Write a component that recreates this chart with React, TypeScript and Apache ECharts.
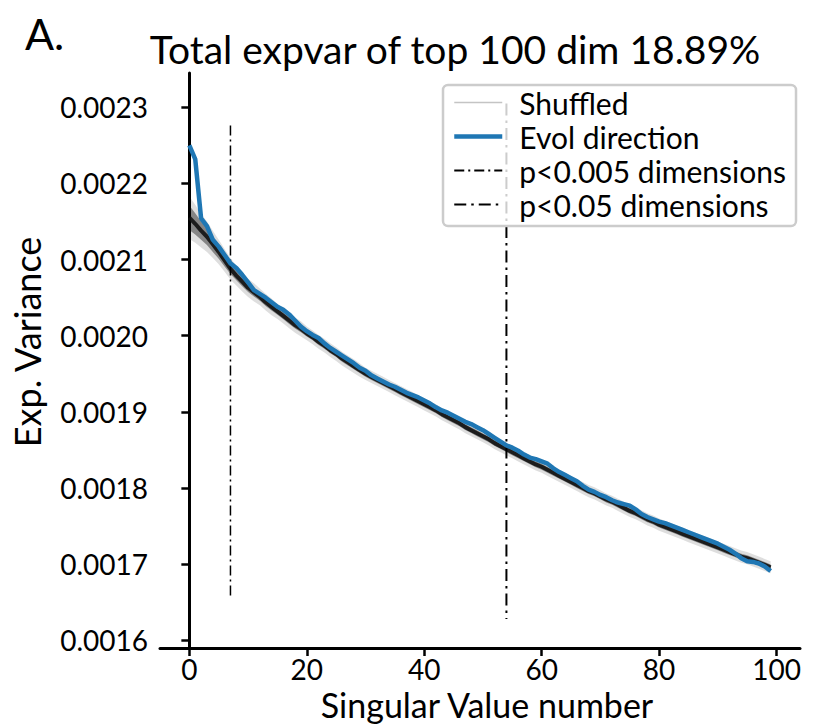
import React, { useEffect, useRef } from "react";
import * as echarts from "echarts";

const xTicks = [0, 20, 40, 60, 80, 100];
const yTicks = [0.0016, 0.0017, 0.0018, 0.0019, 0.002, 0.0021, 0.0022, 0.0023];

const evolDirection = [
  0.002250, 0.002232, 0.002154, 0.002144, 0.002126, 0.002117, 0.002106, 0.002095, 0.002089, 0.002080,
  0.002070, 0.002060, 0.002055, 0.002050, 0.002044, 0.002038, 0.002034, 0.002028, 0.002020, 0.002012,
  0.002006, 0.002001, 0.001997, 0.001990, 0.001984, 0.001979, 0.001974, 0.001969, 0.001964, 0.001958,
  0.001954, 0.001948, 0.001944, 0.001940, 0.001936, 0.001933, 0.001929, 0.001925, 0.001922, 0.001919,
  0.001915, 0.001911, 0.001906, 0.001902, 0.001899, 0.001895, 0.001891, 0.001887, 0.001884, 0.001880,
  0.001876, 0.001871, 0.001866, 0.001861, 0.001856, 0.001853, 0.001849, 0.001844, 0.001840, 0.001838,
  0.001835, 0.001832, 0.001826, 0.001821, 0.001817, 0.001813, 0.001809, 0.001803, 0.001798, 0.001795,
  0.001791, 0.001788, 0.001784, 0.001781, 0.001779, 0.001777, 0.001772, 0.001766, 0.001762, 0.001759,
  0.001756, 0.001754, 0.001751, 0.001748, 0.001745, 0.001742, 0.001739, 0.001736, 0.001733, 0.001730,
  0.001727, 0.001723, 0.001719, 0.001714, 0.001708, 0.001704, 0.001703, 0.001701, 0.001697, 0.001691,
];

const shuffledMean = [
  0.002155, 0.002147, 0.002138, 0.002130, 0.002120, 0.002110, 0.002099, 0.002088, 0.002079, 0.002071,
  0.002063, 0.002057, 0.002051, 0.002044, 0.002038, 0.002032, 0.002026, 0.002020, 0.002014, 0.002009,
  0.002003, 0.001998, 0.001992, 0.001987, 0.001981, 0.001976, 0.001970, 0.001965, 0.001960, 0.001955,
  0.001950, 0.001946, 0.001942, 0.001938, 0.001934, 0.001930, 0.001926, 0.001922, 0.001918, 0.001914,
  0.001910, 0.001906, 0.001902, 0.001897, 0.001893, 0.001889, 0.001885, 0.001880, 0.001876, 0.001872,
  0.001868, 0.001864, 0.001859, 0.001855, 0.001851, 0.001847, 0.001843, 0.001839, 0.001835, 0.001831,
  0.001828, 0.001824, 0.001820, 0.001816, 0.001812, 0.001808, 0.001804, 0.001800, 0.001796, 0.001793,
  0.001789, 0.001785, 0.001782, 0.001778, 0.001774, 0.001770, 0.001767, 0.001763, 0.001759, 0.001756,
  0.001752, 0.001749, 0.001746, 0.001743, 0.001740, 0.001737, 0.001734, 0.001731, 0.001728, 0.001725,
  0.001722, 0.001719, 0.001716, 0.001713, 0.001710, 0.001708, 0.001705, 0.001702, 0.001699, 0.001696,
];

// spread of the shuffled bundle around its mean, starting at the given index
const spreadStart = [0, 1, 2, 3, 4, 5, 6, 7, 8, 10, 12, 15, 20, 30, 40];
const spreadOuter = [0.000028, 0.000025, 0.000022, 0.00002, 0.000018, 0.000016, 0.000015, 0.000014, 0.000013, 0.000012, 0.000011, 0.00001, 0.000009, 0.000008, 0.000008];
const spreadInner = [0.000016, 0.000014, 0.000012, 0.000011, 0.00001, 0.000009, 0.000008, 0.000007, 0.000006, 0.0000055, 0.000005, 0.0000045, 0.000004, 0.000004, 0.0000038];

const p005Line = [[7, 0.002276], [7, 0.001658]];
const p05Line = [[54, 0.002305], [54, 0.001628]];

const FONT = "Lato";

function spreadAt(arr: number[], i: number) {
  let s = arr[0];
  for (let k = 0; k < spreadStart.length; k++) if (spreadStart[k] <= i) s = arr[k];
  return s;
}

function bandSeries(arr: number[], fill: string) {
  return {
    type: "custom",
    silent: true,
    z: 1,
    data: [[0, shuffledMean[0]]],
    encode: { x: 0, y: 1 },
    renderItem: (_p: any, api: any) => {
      const up = shuffledMean.map((v, i) => api.coord([i, v + spreadAt(arr, i)]));
      const lo = shuffledMean.map((v, i) => api.coord([i, v - spreadAt(arr, i)])).reverse();
      return { type: "polygon", shape: { points: up.concat(lo) }, style: { fill } };
    },
  };
}

export default function App() {
  const ref = useRef<HTMLDivElement>(null);
  useEffect(() => {
    document.body.style.margin = "0";
    const chart = echarts.init(ref.current!, null, { renderer: "svg" });
    const idx = evolDirection.map((_, i) => i);
    chart.setOption({
      animation: false,
      backgroundColor: "#fff",
      textStyle: { fontFamily: FONT },
      graphic: [
        { type: "text", left: 25, top: 12, style: { text: "A.", fontSize: 43, fontFamily: FONT, fill: "#000" } },
        {
          type: "text",
          x: 455,
          y: 49,
          style: { text: "Total expvar of top 100 dim 18.89%", fontSize: 39, fontFamily: FONT, fill: "#000", textAlign: "center", textVerticalAlign: "middle" },
        },
        {
          type: "text",
          x: 27,
          y: 342,
          rotation: Math.PI / 2,
          style: { text: "Exp. Variance", fontSize: 36, fontFamily: FONT, fill: "#000", textAlign: "center", textVerticalAlign: "middle" },
        },
        {
          type: "text",
          x: 487,
          y: 704,
          style: { text: "Singular Value number", fontSize: 34, lineHeight: 36, fontFamily: FONT, fill: "#000", textAlign: "center", textVerticalAlign: "middle" },
        },
      ],
      grid: { left: 160, right: 16, top: 73, bottom: 76 },
      legend: {
        left: 443,
        top: 85,
        orient: "vertical",
        itemWidth: 48,
        itemHeight: 14,
        itemGap: 1,
        padding: [1, 10, 5, 9],
        backgroundColor: "rgba(255,255,255,0.8)",
        borderColor: "#cccccc",
        borderWidth: 2.5,
        borderRadius: 5,
        itemStyle: { opacity: 0 },
        textStyle: { fontSize: 30, fontFamily: FONT, color: "#000", lineHeight: 33, padding: [0, 0, 0, 12] },
        data: [
          { name: "Shuffled", lineStyle: { color: "#c4c4c4", width: 1.5 } },
          { name: "Evol direction", lineStyle: { color: "#1f77b4", width: 4.5 } },
          { name: "p<0.005 dimensions", lineStyle: { width: 1.8 } },
          { name: "p<0.05 dimensions", lineStyle: { width: 1.8 } },
        ],
      },
      xAxis: {
        type: "value",
        min: -5,
        max: 104,
        axisLine: { show: true, lineStyle: { color: "#000", width: 3 } },
        axisTick: { show: true, customValues: xTicks, length: 8, lineStyle: { color: "#000", width: 2.5 } },
        axisLabel: { customValues: xTicks, fontSize: 28, lineHeight: 22, fontFamily: FONT, color: "#000", margin: 10 },
        splitLine: { show: false },
      },
      yAxis: {
        type: "value",
        min: 0.00159,
        max: 0.002345,
        axisLine: { show: true, lineStyle: { color: "#000", width: 3 } },
        axisTick: { show: true, customValues: yTicks, length: 8, lineStyle: { color: "#000", width: 2.5 } },
        axisLabel: { customValues: yTicks, fontSize: 28, fontFamily: FONT, color: "#000", margin: 12, formatter: (v: number) => v.toFixed(4) },
        splitLine: { show: false },
      },
      series: [
        bandSeries(spreadOuter, "rgba(0,0,0,0.13)"),
        bandSeries(spreadInner, "rgba(0,0,0,0.4)"),
        {
          type: "line",
          name: "shuffled core",
          data: idx.map((i) => [i, shuffledMean[i]]),
          showSymbol: false,
          symbol: "none",
          z: 2,
          lineStyle: { color: "#111", width: 4, opacity: 0.9 },
        },
        {
          type: "line",
          name: "Shuffled",
          data: [],
          symbol: "none",
          lineStyle: { color: "#c4c4c4", width: 1.5 },
          itemStyle: { color: "#c4c4c4" },
        },
        {
          type: "line",
          name: "Evol direction",
          data: idx.map((i) => [i, evolDirection[i]]),
          symbol: "none",
          z: 5,
          lineStyle: { color: "#1f77b4", width: 4.5 },
          itemStyle: { color: "#1f77b4" },
        },
        {
          type: "line",
          name: "p<0.005 dimensions",
          data: p005Line,
          symbol: "none",
          z: 3,
          lineStyle: { color: "#000", width: 1.5, type: [10, 4, 2, 4] },
          itemStyle: { color: "#000" },
        },
        {
          type: "line",
          name: "p<0.05 dimensions",
          data: p05Line,
          symbol: "none",
          z: 3,
          lineStyle: { color: "#000", width: 2, type: [12, 5, 2.5, 5] },
          itemStyle: { color: "#000" },
        },
      ],
    });
    return () => chart.dispose();
  }, []);
  return <div ref={ref} style={{ width: 816, height: 724 }} />;
}
